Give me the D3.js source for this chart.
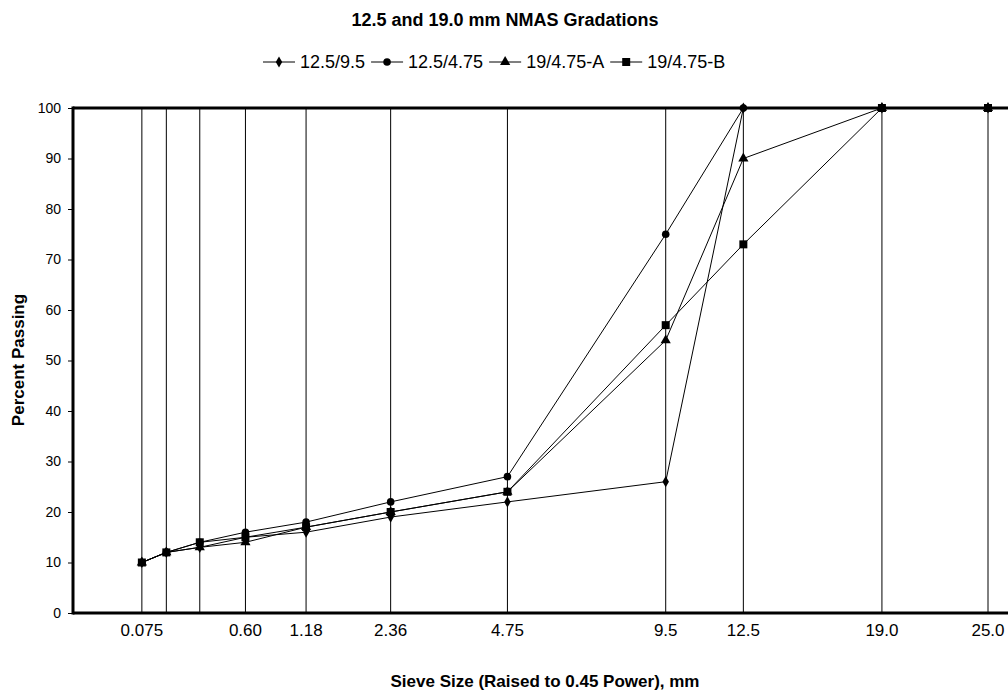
<!DOCTYPE html>
<html>
<head>
<meta charset="utf-8">
<script src="https://cdn.jsdelivr.net/npm/d3@7"></script>
<style>
  body { margin: 0; background: #fff; }
  svg { font-family: "Liberation Sans", Arial, sans-serif; }
</style>
</head>
<body>
<div id="chart"></div>
<script>
// sieve sizes, mm
var sieves = [0.075, 0.15, 0.3, 0.6, 1.18, 2.36, 4.75, 9.5, 12.5, 19.0, 25.0];
var tickLabels = ["0.075", "", "", "0.60", "1.18", "2.36", "4.75", "9.5", "12.5", "19.0", "25.0"];
var yTicks = [0, 10, 20, 30, 40, 50, 60, 70, 80, 90, 100];

var seriesNames = ["12.5/9.5", "12.5/4.75", "19/4.75-A", "19/4.75-B"];
var seriesSymbols = ["diamond", "circle", "triangle", "square"];
var pass_125_95 = [10, 12, 13, 15, 16, 19, 22, 26, 100, 100, 100];
var pass_125_475 = [10, 12, 14, 16, 18, 22, 27, 75, 100, 100, 100];
var pass_19_475A = [10, 12, 13, 14, 17, 20, 24, 54, 90, 100, 100];
var pass_19_475B = [10, 12, 14, 15, 17, 20, 24, 57, 73, 100, 100];
var seriesValues = [pass_125_95, pass_125_475, pass_19_475A, pass_19_475B];

var width = 1008, height = 692;
var margin = { top: 108, right: -2, bottom: 79, left: 73 };

var svg = d3.select("#chart").append("svg")
    .attr("width", width)
    .attr("height", height);

var x = d3.scaleLinear()
    .domain([0, Math.pow(25, 0.45)])
    .range([margin.left + 2, 988]);
var y = d3.scaleLinear()
    .domain([0, 100])
    .range([height - margin.bottom, margin.top]);

var symbolTypes = {
    diamond: d3.symbolDiamond,
    circle: d3.symbolCircle,
    triangle: d3.symbolTriangle,
    square: d3.symbolSquare
};
var symbolSizes = { diamond: 36, circle: 45, triangle: 45, square: 64 };

// title
svg.append("text")
    .attr("x", 505).attr("y", 26)
    .attr("text-anchor", "middle")
    .style("font-size", "18px").style("font-weight", "bold")
    .text("12.5 and 19.0 mm NMAS Gradations");

// vertical grid lines at sieves
svg.append("g").selectAll("line")
    .data(sieves)
    .enter().append("line")
    .attr("x1", function (d) { return x(Math.pow(d, 0.45)); })
    .attr("x2", function (d) { return x(Math.pow(d, 0.45)); })
    .attr("y1", y(100))
    .attr("y2", y(0))
    .attr("stroke", "#000")
    .attr("stroke-width", 1);

// x tick labels
svg.append("g").selectAll("text")
    .data(sieves)
    .enter().append("text")
    .attr("x", function (d) { return x(Math.pow(d, 0.45)); })
    .attr("y", 636)
    .attr("text-anchor", "middle")
    .style("font-size", "17px")
    .text(function (d, i) { return tickLabels[i]; });

// y axis
var yAxis = svg.append("g")
    .attr("transform", "translate(" + margin.left + ",0)")
    .call(d3.axisLeft(y).tickValues(yTicks).tickSize(5).tickPadding(7));
yAxis.select(".domain").remove();
yAxis.selectAll("text")
    .style("font-size", "14px")
    .style("font-family", "Liberation Sans, Arial, sans-serif")
    .attr("fill", "#000");
yAxis.selectAll("line").attr("stroke", "#000");

// frame
svg.append("line").attr("x1", margin.left).attr("x2", width + 5)
    .attr("y1", y(100)).attr("y2", y(100))
    .attr("stroke", "#000").attr("stroke-width", 3);
svg.append("line").attr("x1", margin.left).attr("x2", width + 5)
    .attr("y1", y(0)).attr("y2", y(0))
    .attr("stroke", "#000").attr("stroke-width", 3);
svg.append("line").attr("x1", margin.left).attr("x2", margin.left)
    .attr("y1", y(100) - 1.5).attr("y2", y(0) + 1.5)
    .attr("stroke", "#000").attr("stroke-width", 3);

// series
var line = d3.line()
    .x(function (d) { return x(Math.pow(d[0], 0.45)); })
    .y(function (d) { return y(d[1]); });

seriesValues.forEach(function (vals, i) {
    var pts = sieves.map(function (s, j) { return [s, vals[j]]; });
    var g = svg.append("g");
    g.append("path")
        .datum(pts)
        .attr("d", line)
        .attr("fill", "none")
        .attr("stroke", "#000")
        .attr("stroke-width", 1);
    var sym = seriesSymbols[i];
    g.selectAll("path.m")
        .data(pts)
        .enter().append("path")
        .attr("class", "m")
        .attr("transform", function (d) {
            return "translate(" + x(Math.pow(d[0], 0.45)) + "," + y(d[1]) + ")";
        })
        .attr("d", d3.symbol().type(symbolTypes[sym]).size(symbolSizes[sym]))
        .attr("fill", "#000");
});

// legend, laid out left to right
var legend = svg.append("g");
var cursor = 263;
seriesNames.forEach(function (name, i) {
    var lg = legend.append("g").attr("transform", "translate(" + cursor + ",62)");
    lg.append("line").attr("x1", 0).attr("x2", 32).attr("y1", 0).attr("y2", 0)
        .attr("stroke", "#000").attr("stroke-width", 1);
    lg.append("path")
        .attr("transform", "translate(16,0)")
        .attr("d", d3.symbol().type(symbolTypes[seriesSymbols[i]]).size(symbolSizes[seriesSymbols[i]]))
        .attr("fill", "#000");
    var t = lg.append("text")
        .attr("x", 37).attr("y", 6)
        .style("font-size", "18px")
        .text(name);
    cursor += 37 + t.node().getComputedTextLength() + 6;
});

// axis titles
svg.append("text")
    .attr("x", 545).attr("y", 687)
    .attr("text-anchor", "middle")
    .style("font-size", "17px").style("font-weight", "bold")
    .text("Sieve Size (Raised to 0.45 Power), mm");
svg.append("text")
    .attr("transform", "translate(24,360) rotate(-90)")
    .attr("text-anchor", "middle")
    .style("font-size", "17px").style("font-weight", "bold")
    .text("Percent Passing");
</script>
</body>
</html>
